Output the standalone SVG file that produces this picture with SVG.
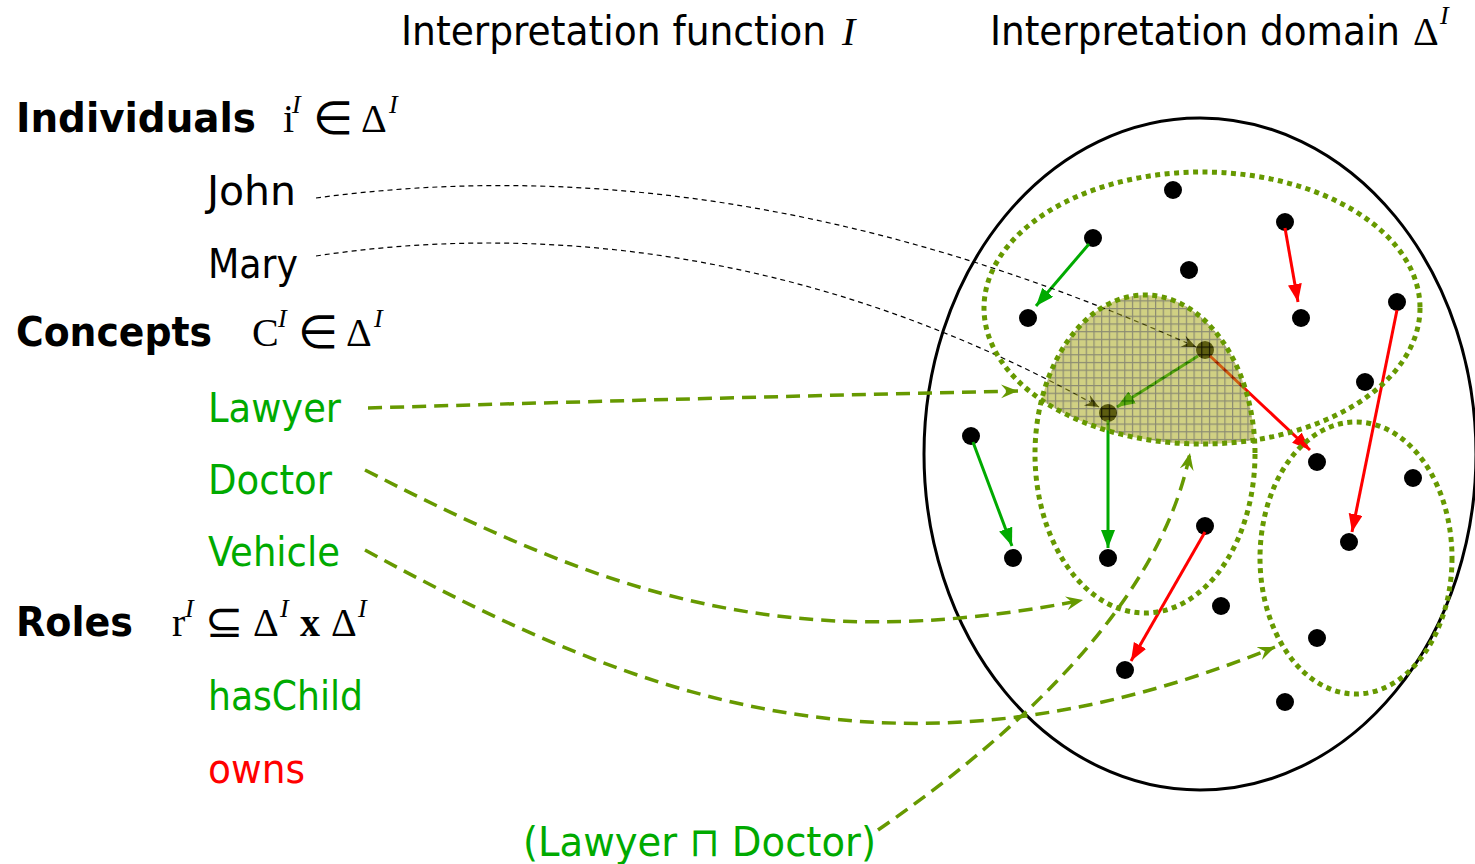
<svg xmlns="http://www.w3.org/2000/svg" width="1475" height="864" viewBox="0 0 1475 864">
<style>
.t{font-family:"DejaVu Sans Condensed","DejaVu Sans",sans-serif;font-size:41px;}
.b{font-weight:bold;}
.m{font-family:"Liberation Serif","DejaVu Serif",serif;font-size:40px;}
.op{font-family:"DejaVu Sans",sans-serif;font-size:46px;}
.sup{font-family:"Liberation Serif","DejaVu Serif",serif;font-style:italic;font-size:26px;}
.g{fill:#00aa00;}
.r{fill:#ff0000;}
.dot{fill:#000;}
.concept{fill:none;stroke:#669900;stroke-width:5;stroke-dasharray:5 4.5;}
.hc{stroke:#00aa00;stroke-width:3;fill:none;}
.ow{stroke:#ff0000;stroke-width:3;fill:none;}
.ind{stroke:#000;stroke-width:1.2;stroke-dasharray:5 4;fill:none;}
.cmap{stroke:#669900;stroke-width:3.5;stroke-dasharray:14 8;fill:none;}
</style>
<defs>
<marker id="ahG" markerUnits="userSpaceOnUse" markerWidth="20" markerHeight="16" refX="18" refY="7" orient="auto"><path d="M0,0 L18,7 L0,14 z" fill="#00aa00"/></marker>
<marker id="ahR" markerUnits="userSpaceOnUse" markerWidth="20" markerHeight="16" refX="18" refY="7" orient="auto"><path d="M0,0 L18,7 L0,14 z" fill="#ff0000"/></marker>
<marker id="ahK" markerUnits="userSpaceOnUse" markerWidth="16" markerHeight="14" refX="14" refY="6" orient="auto"><path d="M0,0 L14,6 L0,12 L5,6 z" fill="#000"/></marker>
<marker id="ahO" markerUnits="userSpaceOnUse" markerWidth="20" markerHeight="16" refX="17" refY="7" orient="auto"><path d="M0,0 L17,7 L0,14 L6,7 z" fill="#669900"/></marker>
<pattern id="grid" width="7.7" height="7.7" patternUnits="userSpaceOnUse"><rect width="7.7" height="7.7" fill="#a9a91e"/><path d="M0,0.6H7.7M0.6,0V7.7" stroke="#2e2e00" stroke-width="1.2"/></pattern>
<clipPath id="clipLawyer"><ellipse cx="1202" cy="308" rx="218" ry="136"/></clipPath>
</defs>
<rect width="1475" height="864" fill="#fff"/>

<g id="domain"><ellipse cx="1200" cy="454" rx="276" ry="336" fill="none" stroke="#000" stroke-width="3"/></g>

<g id="individuals">
<circle class="dot" cx="1173" cy="190" r="9"/>
<circle class="dot" cx="1285" cy="222" r="9"/>
<circle class="dot" cx="1093" cy="238" r="9"/>
<circle class="dot" cx="1189" cy="270" r="9"/>
<circle class="dot" cx="1028" cy="318" r="9"/>
<circle class="dot" cx="1301" cy="318" r="9"/>
<circle class="dot" cx="1397" cy="302" r="9"/>
<circle class="dot" cx="1365" cy="382" r="9"/>
<circle class="dot" cx="1205" cy="350" r="9"/>
<circle class="dot" cx="1108" cy="413" r="9"/>
<circle class="dot" cx="971" cy="436" r="9"/>
<circle class="dot" cx="1317" cy="462" r="9"/>
<circle class="dot" cx="1413" cy="478" r="9"/>
<circle class="dot" cx="1205" cy="526" r="9"/>
<circle class="dot" cx="1013" cy="558" r="9"/>
<circle class="dot" cx="1108" cy="558" r="9"/>
<circle class="dot" cx="1349" cy="542" r="9"/>
<circle class="dot" cx="1221" cy="606" r="9"/>
<circle class="dot" cx="1317" cy="638" r="9"/>
<circle class="dot" cx="1125" cy="670" r="9"/>
<circle class="dot" cx="1285" cy="702" r="9"/>
</g>

<g id="connectors">
<line class="hc" x1="1089" y1="244" x2="1036" y2="306" marker-end="url(#ahG)"/>
<line class="hc" x1="1198" y1="356" x2="1117" y2="407" marker-end="url(#ahG)"/>
<line class="hc" x1="1108" y1="420" x2="1108" y2="548" marker-end="url(#ahG)"/>
<line class="hc" x1="973" y1="442" x2="1012" y2="546" marker-end="url(#ahG)"/>
<line class="ow" x1="1285" y1="228" x2="1298" y2="302" marker-end="url(#ahR)"/>
<line class="ow" x1="1397" y1="310" x2="1352" y2="532" marker-end="url(#ahR)"/>
<line class="ow" x1="1210" y1="356" x2="1310" y2="450" marker-end="url(#ahR)"/>
<line class="ow" x1="1205" y1="532" x2="1131" y2="661" marker-end="url(#ahR)"/>
<path class="ind" d="M316,198 C560,165 850,192 1196,347" marker-end="url(#ahK)"/>
<path class="ind" d="M316,256 C520,225 800,240 1099,407" marker-end="url(#ahK)"/>
<path class="cmap" d="M368,408 Q700,398 1018,391" marker-end="url(#ahO)"/>
<path class="cmap" d="M365,470 C600,590 780,660 1083,600" marker-end="url(#ahO)"/>
<path class="cmap" d="M365,550 C640,700 900,800 1275,647" marker-end="url(#ahO)"/>
<path class="cmap" d="M878,830 C1030,725 1162,595 1190,453" marker-end="url(#ahO)"/>
</g>

<g id="lawyer-and-doctor"><ellipse cx="1145" cy="454" rx="110" ry="159" clip-path="url(#clipLawyer)" fill="url(#grid)" opacity="0.55"/></g>

<g id="concept-lawyer"><ellipse class="concept" cx="1202" cy="308" rx="218" ry="136"/></g>
<g id="concept-doctor"><ellipse class="concept" cx="1145" cy="454" rx="110" ry="159"/></g>
<g id="concept-vehicle"><ellipse class="concept" cx="1356" cy="558" rx="96" ry="136"/></g>

<g id="header-function">
<text class="t" x="401" y="45" textLength="425" lengthAdjust="spacingAndGlyphs">Interpretation function</text>
<text class="m" x="842" y="45" font-style="italic" font-size="42">I</text>
</g>
<g id="header-domain">
<text class="t" x="990" y="45" textLength="410" lengthAdjust="spacingAndGlyphs">Interpretation domain</text>
<text class="m" x="1413" y="45">Δ</text>
<text class="sup" x="1440" y="24">I</text>
</g>

<g id="label-individuals">
<text class="t b" x="16" y="132" textLength="240" lengthAdjust="spacingAndGlyphs">Individuals</text>
<text class="m" x="283" y="132">i</text>
<text class="sup" x="292" y="113">I</text>
<text class="op" x="313" y="134">∈</text>
<text class="m" x="361" y="132">Δ</text>
<text class="sup" x="389" y="113">I</text>
</g>
<g id="label-john"><text class="t" x="207" y="205" textLength="89" lengthAdjust="spacingAndGlyphs">John</text></g>
<g id="label-mary"><text class="t" x="208" y="278" textLength="90" lengthAdjust="spacingAndGlyphs">Mary</text></g>

<g id="label-concepts">
<text class="t b" x="16" y="346" textLength="196" lengthAdjust="spacingAndGlyphs">Concepts</text>
<text class="m" x="252" y="346">C</text>
<text class="sup" x="278" y="327">I</text>
<text class="op" x="298" y="348">∈</text>
<text class="m" x="346" y="346">Δ</text>
<text class="sup" x="374" y="327">I</text>
</g>
<g id="label-lawyer"><text class="t g" x="208" y="422" textLength="133" lengthAdjust="spacingAndGlyphs">Lawyer</text></g>
<g id="label-doctor"><text class="t g" x="208" y="494" textLength="124" lengthAdjust="spacingAndGlyphs">Doctor</text></g>
<g id="label-vehicle"><text class="t g" x="208" y="566" textLength="132" lengthAdjust="spacingAndGlyphs">Vehicle</text></g>

<g id="label-roles">
<text class="t b" x="16" y="636" textLength="117" lengthAdjust="spacingAndGlyphs">Roles</text>
<text class="m" x="172" y="636">r</text>
<text class="sup" x="185" y="617">I</text>
<text class="op" x="205" y="637" font-size="44">⊆</text>
<text class="m" x="253" y="636">Δ</text>
<text class="sup" x="280" y="617">I</text>
<text class="m" x="300" y="636" font-weight="bold">x</text>
<text class="m" x="331" y="636">Δ</text>
<text class="sup" x="358" y="617">I</text>
</g>
<g id="label-haschild"><text class="t g" x="208" y="710" textLength="155" lengthAdjust="spacingAndGlyphs">hasChild</text></g>
<g id="label-owns"><text class="t r" x="208" y="783" textLength="97" lengthAdjust="spacingAndGlyphs">owns</text></g>
<g id="label-intersection"><text class="t g" x="523" y="856" textLength="353" lengthAdjust="spacingAndGlyphs">(Lawyer ⊓ Doctor)</text></g>
</svg>
